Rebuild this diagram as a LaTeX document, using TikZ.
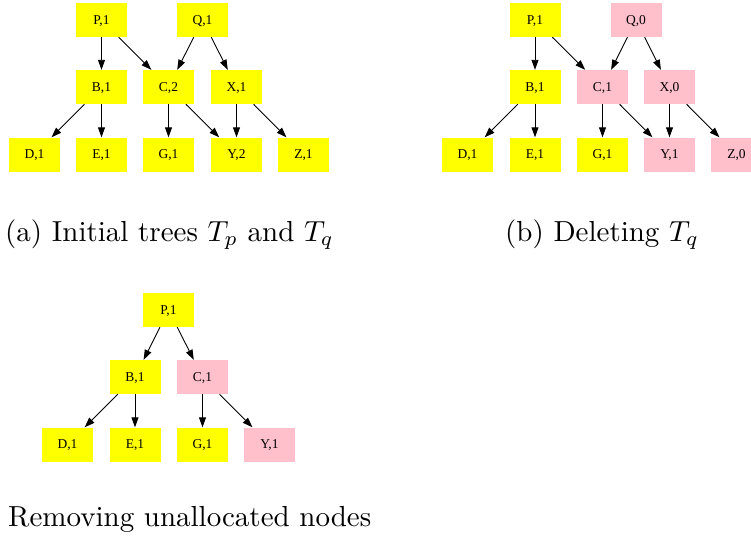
\documentclass[tikz,border=0pt]{standalone}
\usepackage{fontspec}
\newfontfamily\nodefont{Liberation Serif}
\usetikzlibrary{arrows.meta}
\definecolor{alloc}{HTML}{FFFF00}
\definecolor{freed}{HTML}{FFC0CB}
\tikzset{
  treenode/.style={rectangle, fill=alloc, minimum width=51pt, minimum height=34pt,
    inner sep=0pt, text height=8.9pt, text depth=0pt,
    font=\nodefont\fontsize{13.5}{14}\selectfont},
  freenode/.style={treenode, fill=freed},
  edge/.style={line width=0.9pt, -{Triangle[length=10pt,width=7pt]}},
  caption/.style={inner sep=0pt, anchor=base west}
}
\newcommand{\capt}[1]{\scalebox{2.9}{#1}}
\begin{document}
\begin{tikzpicture}[x=1pt,y=-1pt]
\useasboundingbox (0,0) rectangle (751,543);

% (a) initial trees
\node[treenode] (aP) at (101.5,20) {P,1};
\node[treenode] (aQ) at (202.5,20) {Q,1};
\node[treenode] (aB) at (101.5,87) {B,1};
\node[treenode] (aC) at (168.5,87) {C,2};
\node[treenode] (aX) at (236.5,87) {X,1};
\node[treenode] (aD) at (34.5,154.5) {D,1};
\node[treenode] (aE) at (101.5,154.5) {E,1};
\node[treenode] (aG) at (168.5,154.5) {G,1};
\node[treenode] (aY) at (236.5,154.5) {Y,2};
\node[treenode] (aZ) at (303.5,154.5) {Z,1};
\foreach \s/\t in {aP/aB,aP/aC,aQ/aC,aQ/aX,aB/aD,aB/aE,aC/aG,aC/aY,aX/aY,aX/aZ}
  \draw[edge] (\s) -- (\t);

% (b) after deleting T_q
\node[treenode] (bP) at (535,20) {P,1};
\node[freenode] (bQ) at (636,20) {Q,0};
\node[treenode] (bB) at (535,87) {B,1};
\node[freenode] (bC) at (602.5,87) {C,1};
\node[freenode] (bX) at (669.5,87) {X,0};
\node[treenode] (bD) at (467.5,154.5) {D,1};
\node[treenode] (bE) at (535,154.5) {E,1};
\node[treenode] (bG) at (602.5,154.5) {G,1};
\node[freenode] (bY) at (669.5,154.5) {Y,1};
\node[freenode] (bZ) at (736.5,154.5) {Z,0};
\foreach \s/\t in {bP/bB,bP/bC,bQ/bC,bQ/bX,bB/bD,bB/bE,bC/bG,bC/bY,bX/bY,bX/bZ}
  \draw[edge] (\s) -- (\t);

% (c) after removing unallocated nodes
\node[treenode] (cP) at (168.5,310) {P,1};
\node[treenode] (cB) at (135,377) {B,1};
\node[freenode] (cC) at (202.5,377) {C,1};
\node[treenode] (cD) at (67.5,444.5) {D,1};
\node[treenode] (cE) at (135,444.5) {E,1};
\node[treenode] (cG) at (202.5,444.5) {G,1};
\node[freenode] (cY) at (269.5,444.5) {Y,1};
\foreach \s/\t in {cP/cB,cP/cC,cB/cD,cB/cE,cC/cG,cC/cY}
  \draw[edge] (\s) -- (\t);

% captions
\node[caption] (capA) at (5,241.5) {\capt{(a) Initial trees $T_p$ and $T_q$}};
\node[caption] (capB) at (505,241.5) {\capt{(b) Deleting $T_q$}};
\node[caption] (capC) at (8,526) {\capt{Removing unallocated nodes}};
\end{tikzpicture}
\end{document}
